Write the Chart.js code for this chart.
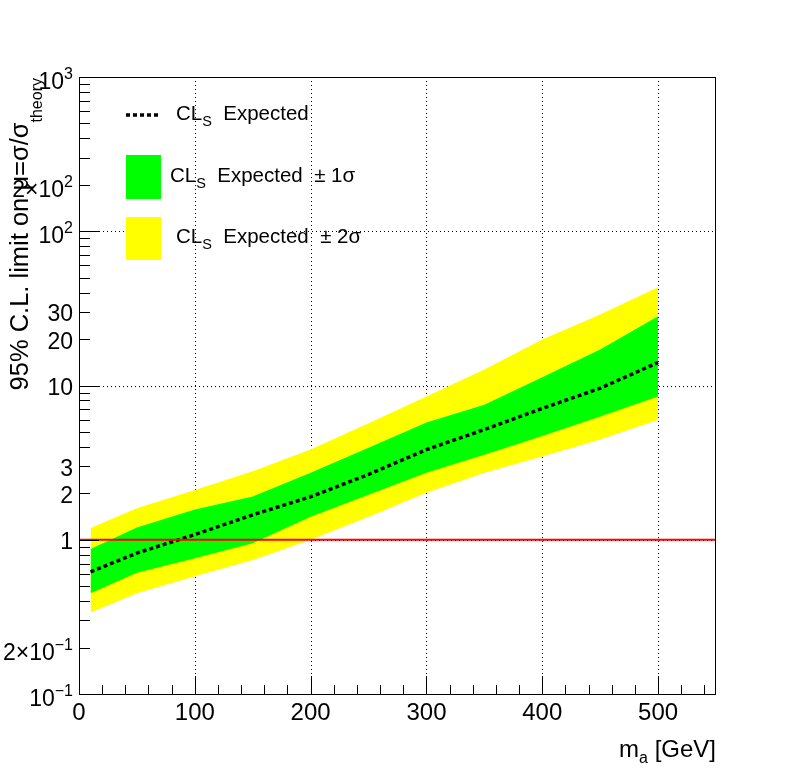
<!DOCTYPE html>
<html>
<head>
<meta charset="utf-8">
<script src="https://cdn.jsdelivr.net/npm/chart.js@4.4.1/dist/chart.umd.min.js"></script>
<style>
  html, body { margin: 0; padding: 0; background: #fff; }
  canvas { display: block; }
</style>
</head>
<body>
<canvas id="limit" width="796" height="772"></canvas>
<script>
// mass points and expected limits
const masses = [10, 50, 100, 150, 200, 250, 300, 350, 400, 450, 500];
const expected = [0.62, 0.82, 1.08, 1.45, 1.9, 2.65, 3.84, 5.18, 7.1, 9.6, 14.1];
const oneSigmaUp = [0.87, 1.2, 1.57, 1.91, 2.72, 3.95, 5.75, 7.5, 11.3, 17.1, 28.1];
const oneSigmaDown = [0.45, 0.61, 0.76, 0.95, 1.41, 1.96, 2.72, 3.56, 4.7, 6.3, 8.5];
const twoSigmaUp = [1.19, 1.6, 2.1, 2.78, 3.84, 5.7, 8.5, 12.7, 19.9, 28.9, 43.3];
const twoSigmaDown = [0.337, 0.45, 0.58, 0.74, 1.0, 1.41, 2.02, 2.72, 3.47, 4.46, 6.0];
const unityLine = [1, 1];
const unityRange = [0, 550];

// axis labels
const xTickValues = [0, 100, 200, 300, 400, 500];
const yTickValues = [0.1, 0.2, 1, 2, 3, 10, 20, 30, 100, 200, 1000];
const yTickLabels = ["10^{\u22121}", "2\u00d710^{\u22121}", "1", "2", "3", "10", "20", "30", "10^{2}", "2\u00d710^{2}", "10^{3}"];

const FONT = '"Liberation Sans", Arial, Helvetica, sans-serif';
const toPoints = (xs, ys) => xs.map((x, i) => ({ x: x, y: ys[i] }));

// split "2x10^{3}" into base / superscript pieces
function parseLabel(str, size) {
  const parts = [];
  const m = str.match(/^(.*?)\^\{(.*)\}$/);
  if (m) {
    parts.push({ t: m[1], s: size, dy: 0 });
    parts.push({ t: m[2], s: Math.round(size * 0.68), dy: -Math.round(size * 0.42) });
  } else {
    parts.push({ t: str, s: size, dy: 0 });
  }
  return parts;
}

function drawParts(ctx, x, y, parts, align) {
  let total = 0;
  parts.forEach(p => {
    ctx.font = p.s + "px " + FONT;
    p.w = ctx.measureText(p.t).width;
    total += p.w;
  });
  let cx = align === "right" ? x - total : align === "center" ? x - total / 2 : x;
  ctx.textAlign = "left";
  ctx.textBaseline = "alphabetic";
  parts.forEach(p => {
    ctx.font = p.s + "px " + FONT;
    ctx.fillText(p.t, cx, y + p.dy);
    cx += p.w;
  });
  return total;
}

const rootAxes = {
  id: "rootAxes",
  beforeDatasetsDraw(chart) {
    const { ctx, chartArea: a, scales: { x, y } } = chart;
    ctx.save();
    ctx.strokeStyle = "#000";
    ctx.lineWidth = 1;
    ctx.setLineDash([1, 3]);
    ctx.beginPath();
    xTickValues.forEach(v => {
      if (v === 0) return;
      const px = Math.round(x.getPixelForValue(v)) + 0.5;
      ctx.moveTo(px, a.top);
      ctx.lineTo(px, a.bottom);
    });
    [1, 10, 100].forEach(v => {
      const py = Math.round(y.getPixelForValue(v)) + 0.5;
      if (v === 100) {
        // the legend hides part of this one
        ctx.moveTo(a.left, py);
        ctx.lineTo(125, py);
        ctx.moveTo(292, py);
      } else {
        ctx.moveTo(a.left, py);
      }
      ctx.lineTo(a.right, py);
    });
    ctx.stroke();
    ctx.restore();
  },
  afterDraw(chart) {
    const { ctx, chartArea: a, scales: { x, y } } = chart;
    ctx.save();
    ctx.strokeStyle = "#000";
    ctx.fillStyle = "#000";
    ctx.lineWidth = 1;
    ctx.setLineDash([]);

    // frame
    ctx.strokeRect(a.left + 0.5, a.top + 0.5, a.right - a.left - 1, a.bottom - a.top);

    // ticks
    ctx.beginPath();
    for (let v = 0; v <= 540; v += 20) {
      const px = Math.round(x.getPixelForValue(v)) + 0.5;
      const len = v % 100 === 0 ? 18 : 9;
      ctx.moveTo(px, a.bottom);
      ctx.lineTo(px, a.bottom - len);
    }
    for (let d = -1; d <= 2; d++) {
      for (let m = 1; m <= 9; m++) {
        const py = Math.round(y.getPixelForValue(m * Math.pow(10, d))) + 0.5;
        const len = m === 1 ? 20 : 11;
        ctx.moveTo(a.left, py);
        ctx.lineTo(a.left + len, py);
      }
    }
    ctx.stroke();

    // x labels
    xTickValues.forEach(v => {
      drawParts(ctx, x.getPixelForValue(v), a.bottom + 26, [{ t: String(v), s: 24, dy: 0 }], "center");
    });
    // y labels
    yTickValues.forEach((v, i) => {
      const parts = parseLabel(yTickLabels[i], 23);
      const py = y.getPixelForValue(v) + (parts.length > 1 ? 12 : 9.5);
      drawParts(ctx, a.left - 6, py, parts, "right");
    });

    // x title
    drawParts(ctx, a.right, 757, [
      { t: "m", s: 24, dy: 0 },
      { t: "a", s: 16, dy: 6 },
      { t: " [GeV]", s: 24, dy: 0 }
    ], "right");

    // y title (rotated)
    ctx.save();
    ctx.translate(28, a.top + 1);
    ctx.rotate(-Math.PI / 2);
    ctx.font = "16px " + FONT;
    const subW = ctx.measureText("theory").width;
    ctx.textAlign = "right";
    ctx.fillText("theory", 0, 14);
    ctx.font = "25.5px " + FONT;
    ctx.fillText("95% C.L. limit on \u03bc=\u03c3/\u03c3", -subW, 0);
    ctx.restore();

    // legend
    ctx.save();
    ctx.strokeStyle = "#000";
    ctx.lineWidth = 3.5;
    ctx.setLineDash([4, 3]);
    ctx.beginPath();
    ctx.moveTo(126, 115);
    ctx.lineTo(159, 115);
    ctx.stroke();
    ctx.restore();
    ctx.fillStyle = "#00ff00";
    ctx.fillRect(126, 155, 35, 44);
    ctx.fillStyle = "#ffff00";
    ctx.fillRect(126, 217, 35, 43);
    ctx.fillStyle = "#000";
    const entry = (x0, base, tail) => drawParts(ctx, x0, base, [
      { t: "CL", s: 20.5, dy: 0 },
      { t: "S", s: 14.5, dy: 6 },
      { t: tail, s: 20.5, dy: 0 }
    ], "left");
    entry(176, 120, "  Expected");
    entry(170, 182, "  Expected  \u00b1 1\u03c3");
    entry(176, 243, "  Expected  \u00b1 2\u03c3");
    ctx.restore();
  }
};

new Chart(document.getElementById("limit"), {
  type: "line",
  data: {
    datasets: [
      { data: toPoints(masses, twoSigmaUp), fill: "+1", backgroundColor: "#ffff00", borderWidth: 0, pointRadius: 0, order: 4 },
      { data: toPoints(masses, twoSigmaDown), fill: false, borderWidth: 0, pointRadius: 0, order: 4 },
      { data: toPoints(masses, oneSigmaUp), fill: "+1", backgroundColor: "#00ff00", borderWidth: 0, pointRadius: 0, order: 3 },
      { data: toPoints(masses, oneSigmaDown), fill: false, borderWidth: 0, pointRadius: 0, order: 3 },
      { data: toPoints(masses, expected), fill: false, borderColor: "#000", borderWidth: 3.5, borderDash: [4, 3], pointRadius: 0, order: 1 },
      { data: toPoints(unityRange, unityLine), fill: false, borderColor: "#ff0000", borderWidth: 2, pointRadius: 0, order: 0 }
    ]
  },
  options: {
    responsive: false,
    animation: false,
    events: [],
    layout: { padding: { left: 79, top: 77, right: 80, bottom: 78 } },
    scales: {
      x: { type: "linear", min: 0, max: 550, display: false },
      y: { type: "logarithmic", min: 0.1, max: 1000, display: false }
    },
    plugins: { legend: { display: false }, tooltip: { enabled: false } }
  },
  plugins: [rootAxes]
});
</script>
</body>
</html>
